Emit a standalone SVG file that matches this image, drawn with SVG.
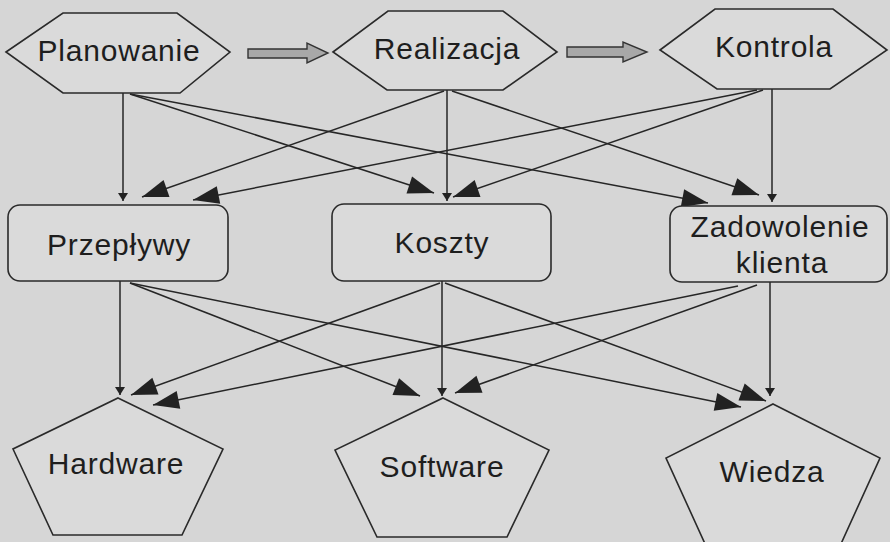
<svg xmlns="http://www.w3.org/2000/svg" width="890" height="542" viewBox="0 0 890 542">
  <style>
    .node { fill: #dadada; stroke: #2a2a2a; stroke-width: 1.6; }
    .label { font-family: "Liberation Sans", Arial, sans-serif; font-size: 30px; letter-spacing: 0.8px; fill: #1e1e1e; text-anchor: middle; }
    .link { stroke: #262626; stroke-width: 1.5; fill: none; }
    .big { marker-end: url(#headBig); }
    .small { marker-end: url(#headSmall); }
    .flow { fill: #a8a8a8; stroke: #333; stroke-width: 1.4; }
  </style>
  <defs>
    <marker id="headBig" markerUnits="userSpaceOnUse" viewBox="-28 -11 30 22" refX="0" refY="0" markerWidth="30" markerHeight="22" orient="auto">
      <path d="M0,0 L-26,-9 L-26,9 Z" fill="#222"/>
    </marker>
    <marker id="headSmall" markerUnits="userSpaceOnUse" viewBox="-10 -7 12 14" refX="0" refY="0" markerWidth="12" markerHeight="14" orient="auto">
      <path d="M0,0 L-8,-5 L-8,5 Z" fill="#222"/>
    </marker>
  </defs>

  <rect width="890" height="542" fill="#d6d6d6"/>

  <!-- process flow between the stages -->
  <g id="flow">
    <polygon class="flow" points="248,49 307,49 307,43 328,53 307,63 307,58 248,58"/>
    <polygon class="flow" points="567,47 623,47 623,42 647,52 623,62 623,57 567,57"/>
  </g>

  <!-- connectors -->
  <g id="connectors">
    <!-- stages to areas -->
    <line class="link small" x1="123" y1="93" x2="123" y2="201"/>
    <line class="link big" x1="130" y1="94" x2="434" y2="193"/>
    <line class="link big" x1="130" y1="94" x2="708" y2="203"/>
    <line class="link small" x1="447" y1="90" x2="447" y2="201"/>
    <line class="link big" x1="444" y1="91" x2="142" y2="197"/>
    <line class="link big" x1="452" y1="91" x2="759" y2="195"/>
    <line class="link small" x1="772" y1="89" x2="772" y2="202"/>
    <line class="link big" x1="757" y1="90" x2="193" y2="200"/>
    <line class="link big" x1="763" y1="90" x2="453" y2="197"/>
    <!-- areas to resources -->
    <line class="link small" x1="120" y1="281" x2="120" y2="395"/>
    <line class="link big" x1="130" y1="283" x2="420" y2="396"/>
    <line class="link big" x1="130" y1="283" x2="741" y2="407"/>
    <line class="link small" x1="442" y1="281" x2="442" y2="396"/>
    <line class="link big" x1="440" y1="283" x2="131" y2="395"/>
    <line class="link big" x1="445" y1="283" x2="766" y2="401"/>
    <line class="link small" x1="770" y1="282" x2="770" y2="396"/>
    <line class="link big" x1="738" y1="286" x2="153" y2="405"/>
    <line class="link big" x1="757" y1="285" x2="455" y2="393"/>
  </g>

  <!-- stages -->
  <g id="planowanie">
    <polygon class="node" points="6,52 63,13 177,13 230,52 180,93 63,93"/>
    <text class="label" x="119" y="61">Planowanie</text>
  </g>
  <g id="realizacja">
    <polygon class="node" points="333,52 388,11 503,11 557,52 503,90 387,90"/>
    <text class="label" x="447" y="59">Realizacja</text>
  </g>
  <g id="kontrola">
    <polygon class="node" points="660,50 715,9 833,9 887,50 830,89 717,89"/>
    <text class="label" x="774" y="57">Kontrola</text>
  </g>

  <!-- areas -->
  <g id="przeplywy">
    <rect class="node" x="8" y="205" width="220" height="76" rx="12"/>
    <text class="label" x="119" y="255">Przepływy</text>
  </g>
  <g id="koszty">
    <rect class="node" x="332" y="204" width="219" height="77" rx="12"/>
    <text class="label" x="442" y="253">Koszty</text>
  </g>
  <g id="zadowolenie">
    <rect class="node" x="670" y="206" width="217" height="76" rx="12"/>
    <text class="label" x="780" y="237">Zadowolenie</text>
    <text class="label" x="782" y="273">klienta</text>
  </g>

  <!-- resources -->
  <g id="hardware">
    <polygon class="node" points="118,398 223,449 182,535 53,535 13,449"/>
    <text class="label" x="116" y="474">Hardware</text>
  </g>
  <g id="software">
    <polygon class="node" points="443,398 549,450 507,537 377,537 335,450"/>
    <text class="label" x="442" y="477">Software</text>
  </g>
  <g id="wiedza">
    <polygon class="node" points="773,404 880,458 840,546 706,546 666,458"/>
    <text class="label" x="772" y="482">Wiedza</text>
  </g>
</svg>
